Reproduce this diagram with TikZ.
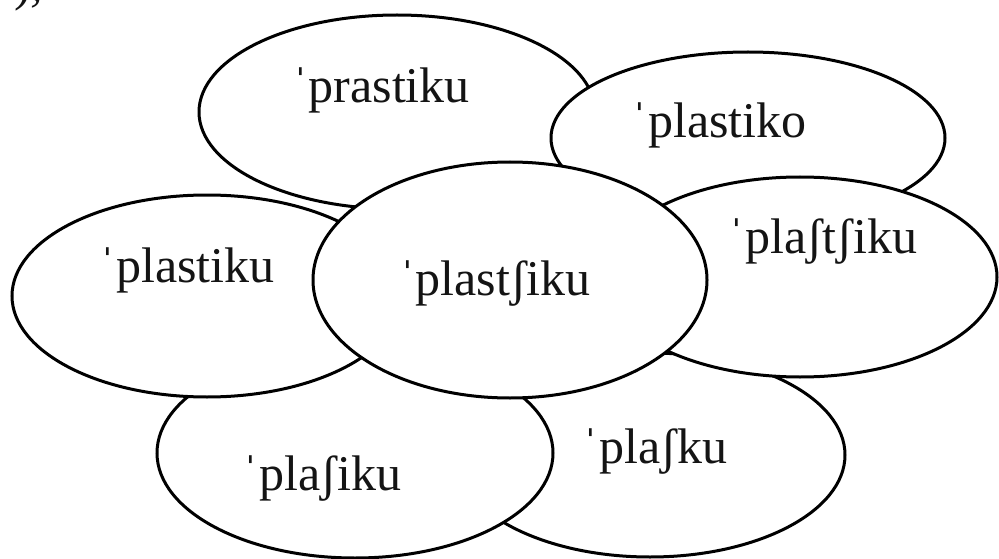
\documentclass[tikz,border=0pt]{standalone}
\usepackage{fontspec}
\setmainfont{Liberation Serif}
\usetikzlibrary{shapes.geometric}
\begin{document}
\begin{tikzpicture}[x=1pt,y=-1pt,
  blob/.style={ellipse,draw=black,fill=white,line width=3pt,inner sep=0pt},
  word/.style={anchor=base,inner sep=0pt,font=\fontsize{50}{54}\selectfont,text=black!92}]
\useasboundingbox[fill=white] (0,0) rectangle (999,559);
% ellipses, back to front
\node[blob,minimum width=396pt,minimum height=194pt] (e1) at (397,112) {};
\node[blob,minimum width=394pt,minimum height=172pt] (e2) at (748,138) {};
\node[blob,minimum width=390pt,minimum height=204pt] (e7) at (650,455) {};
\node[blob,minimum width=394pt,minimum height=200pt] (e3) at (800,277) {};
\node[blob,minimum width=396pt,minimum height=210pt] (e6) at (355,453) {};
\node[blob,minimum width=390pt,minimum height=202pt] (e4) at (207,296) {};
\node[blob,minimum width=394pt,minimum height=236pt] (e5) at (510,280) {};
% words
\node[word] (t1) at (381,103) {ˈprastiku};
\node[word] (t2) at (719,138) {ˈplastiko};
\node[word] (t3) at (823,253) {ˈplaʃtʃiku};
\node[word] (t4) at (187,282) {ˈplastiku};
\node[word] (t5) at (495,295) {ˈplastʃiku};
\node[word] (t6) at (322,490) {ˈplaʃiku};
\node[word] (t7) at (655,463) {ˈplaʃku};
% fragment at the top-left corner
\node[word,anchor=base west] (frag) at (14,1) {),};
\end{tikzpicture}
\end{document}
